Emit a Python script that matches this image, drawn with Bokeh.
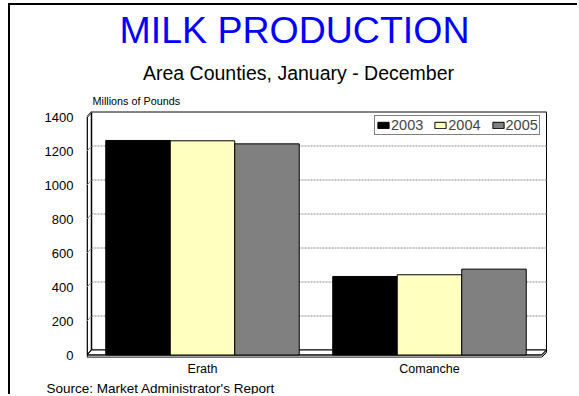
from bokeh.plotting import figure
from bokeh.models import Range1d, FixedTicker, Label, Legend, LegendItem, Title
from bokeh.embed import file_html
from bokeh.resources import INLINE

# ---- data ----
categories = ["Erath", "Comanche"]
years = ["2003", "2004", "2005"]
values_2003 = [1262, 462]
values_2004 = [1260, 472]
values_2005 = [1242, 505]
y_ticks = [0, 200, 400, 600, 800, 1000, 1200, 1400]

title_text = "MILK PRODUCTION"
subtitle_text = "Area Counties, January - December"
unit_text = "Millions of Pounds"
source_text = "Source:  Market Administrator's Report"

# ---- style / geometry ----
FONT = "Liberation Sans"
bar_colors = ["#000000", "#FFFFC0", "#808080"]
PX_X = 227.0          # pixels per category
PX_Y = 0.17           # pixels per million pounds
X0 = -0.011
X1 = X0 + 493 / PX_X
Y0 = -2.5 / PX_Y
Y1 = 349.5 / PX_Y
XW = X0 + 460 / PX_X  # right end of the back wall
DX = 5 / PX_X         # depth offset (x)
DY = 5 / PX_Y         # depth offset (y)
FT = 2.5 / PX_Y       # floor thickness
BW = 64.5 / PX_X      # bar width

def dx_(px):   # page pixel -> data x
    return X0 + (px - 86) / PX_X

def dy_(py):   # page pixel -> data y
    return (354.5 - py) / PX_Y

p = figure(width=569, height=391, output_backend="svg", toolbar_location=None,
           x_range=Range1d(X0, X1), y_range=Range1d(Y0, Y1),
           min_border_left=76, min_border_right=0, min_border_top=0, min_border_bottom=39)
p.styles = {"margin-left": "8px", "margin-top": "3px",
            "border-left": "2px solid black", "border-top": "2px solid black"}
p.xgrid.visible = False
p.ygrid.visible = False
p.outline_line_color = None
p.background_fill_color = "white"
p.border_fill_color = "white"

ymax = y_ticks[-1]
xl = X0 + 0.003

# back wall
p.quad(left=[X0 + DX], right=[XW], bottom=[DY], top=[ymax + DY],
       fill_color="white", line_color="black", line_width=1)
gl = y_ticks[1:]
p.segment(x0=[X0 + DX] * len(gl), y0=[v + DY for v in gl], x1=[XW] * len(gl),
          y1=[v + DY for v in gl], line_color="#8c8c8c", line_width=1, line_dash="2 1")
# left wall
p.patch(x=[xl, xl, X0 + DX, X0 + DX], y=[0, ymax, ymax + DY, DY],
        fill_color="white", line_color="black", line_width=1.5)
p.segment(x0=[xl] * len(gl), y0=gl, x1=[X0 + DX] * len(gl),
          y1=[v + DY for v in gl], line_color="#8c8c8c", line_width=1)
# floor
p.patch(x=[xl, X0 + DX, XW, XW - DX], y=[0, DY, DY, 0],
        fill_color="white", line_color="black", line_width=1)
p.patch(x=[xl, XW - DX, XW, XW, XW - DX, xl],
        y=[0, 0, DY, DY - FT, -FT, -FT],
        fill_color="#a0a0a0", line_color="black", line_width=1)

# bars
centers = [i + 0.5 for i in range(len(categories))]
series = [values_2003, values_2004, values_2005]
renderers = []
for i, vals in enumerate(series):
    xs = [c + (i - 1) * BW for c in centers]
    r = p.vbar(x=xs, top=vals, bottom=0, width=BW, fill_color=bar_colors[i],
               line_color="black", line_width=1)
    renderers.append(r)

legend = Legend(items=[LegendItem(label=y, renderers=[r]) for y, r in zip(years, renderers)],
                orientation="horizontal", location=(288, 222))
legend.label_text_font = FONT
legend.label_text_font_size = "14.5px"
legend.label_standoff = 1
legend.glyph_width = 14
legend.glyph_height = 8
legend.label_height = 10
legend.spacing = 10
legend.padding = 1
legend.margin = 0
legend.border_line_color = "black"
legend.border_line_width = 1
legend.background_fill_color = "white"
legend.background_fill_alpha = 1
p.add_layout(legend, "center")

# axes
for ax in (p.xaxis[0], p.yaxis[0]):
    ax.axis_line_color = None
    ax.major_tick_line_color = None
    ax.minor_tick_line_color = None
    ax.major_tick_out = 0
    ax.major_tick_in = 0
    ax.minor_tick_out = 0
    ax.minor_tick_in = 0
    ax.major_label_text_font = FONT
    ax.major_label_text_color = "black"

p.yaxis.ticker = FixedTicker(ticks=y_ticks)
p.yaxis.major_label_text_font_size = "13px"
p.yaxis.major_label_standoff = 13

p.xaxis.ticker = FixedTicker(ticks=centers)
p.xaxis.major_label_overrides = {c: n for c, n in zip(centers, categories)}
p.xaxis.major_label_text_font_size = "12.5px"
p.xaxis.major_label_standoff = 4

# source line below the axis
p.add_layout(Title(text=source_text, align="left", offset=-40, standoff=0,
                   text_font=FONT, text_font_size="13.5px", text_font_style="normal",
                   text_color="black"), "below")

# titles inside the (extended) frame
def lab(text, px, py, size, align="left", color="black"):
    p.add_layout(Label(x=dx_(px), y=dy_(py), text=text,
                       text_font=FONT, text_font_size=size, text_align=align,
                       text_baseline="alphabetic", text_color=color))

lab(title_text, 294, 29, "37.5px", "center", "#0000FF")
lab(subtitle_text, 298, 72, "19.5px", "center")
lab(unit_text, 92, 100, "10.8px")

open("out.html", "w").write(file_html(p, INLINE))
